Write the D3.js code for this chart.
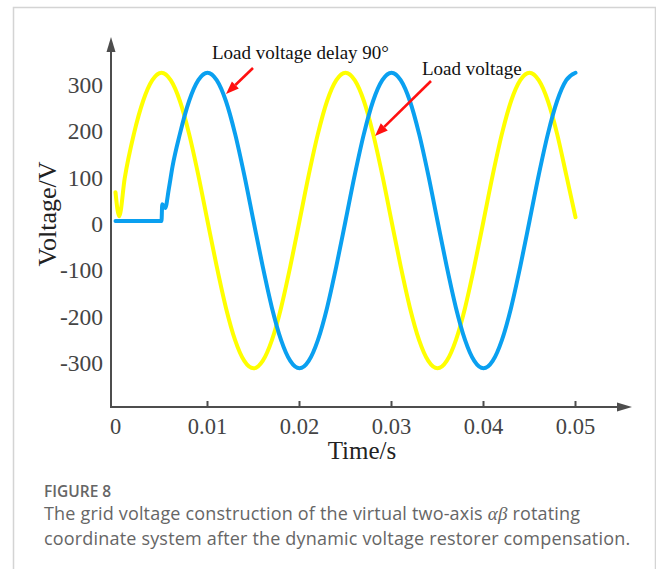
<!DOCTYPE html>
<html>
<head>
<meta charset="utf-8">
<script src="https://cdn.jsdelivr.net/npm/d3@7/dist/d3.min.js"></script>
<style>
  html, body { margin: 0; padding: 0; background: #fff; }
  svg { display: block; }
</style>
</head>
<body>
<svg id="chart" width="656" height="569"></svg>
<script>
// Time axis (s) and tick labels
const xTicks = [0, 0.01, 0.02, 0.03, 0.04, 0.05];
const xTickLabels = ["0", "0.01", "0.02", "0.03", "0.04", "0.05"];
const yTicks = [300, 200, 100, 0, -100, -200, -300];
const yTickLabels = ["300", "200", "100", "0", "-100", "-200", "-300"];

// Load voltage (yellow): sample times (s) and voltage (V)
const loadTime = [0, 0.0004, 0.001, 0.002, 0.003, 0.004, 0.005, 0.006, 0.007, 0.008, 0.009,
  0.010, 0.011, 0.012, 0.013, 0.014, 0.015, 0.016, 0.017, 0.018, 0.019,
  0.020, 0.021, 0.022, 0.023, 0.024, 0.025, 0.026, 0.027, 0.028, 0.029,
  0.030, 0.031, 0.032, 0.033, 0.034, 0.035, 0.036, 0.037, 0.038, 0.039,
  0.040, 0.041, 0.042, 0.043, 0.044, 0.045, 0.046, 0.047, 0.048, 0.049, 0.050];
const loadVoltage = [62, 10, 92, 188, 259, 304, 320, 304, 259, 188, 99,
  0, -98, -187, -257, -302, -318, -302, -257, -187, -98,
  0, 99, 188, 259, 304, 320, 304, 259, 188, 99,
  0, -98, -187, -257, -302, -318, -302, -257, -187, -98,
  0, 99, 188, 259, 304, 320, 304, 259, 188, 99, 8];

// Load voltage delayed by 90° (blue)
const delayTime = [0, 0.005, 0.00508, 0.0054, 0.0058, 0.0062, 0.007, 0.008, 0.009,
  0.010, 0.011, 0.012, 0.013, 0.014, 0.015, 0.016, 0.017, 0.018, 0.019,
  0.020, 0.021, 0.022, 0.023, 0.024, 0.025, 0.026, 0.027, 0.028, 0.029,
  0.030, 0.031, 0.032, 0.033, 0.034, 0.035, 0.036, 0.037, 0.038, 0.039,
  0.040, 0.041, 0.042, 0.043, 0.044, 0.045, 0.046, 0.047, 0.048, 0.049, 0.050];
const delayVoltage = [0, 0, 36, 28, 70, 118, 188, 259, 304,
  320, 304, 259, 188, 99, 0, -98, -187, -257, -302,
  -318, -302, -257, -187, -98, 0, 99, 188, 259, 304,
  320, 304, 259, 188, 99, 0, -98, -187, -257, -302,
  -318, -302, -257, -187, -98, 0, 99, 188, 259, 304, 320];

const svg = d3.select("#chart");

// Panel frame
svg.append("path")
  .attr("d", "M13.5,600 V7.5 H655.5 V600")
  .attr("fill", "none")
  .attr("stroke", "#d4d4d4")
  .attr("stroke-width", 1.5);

const x = d3.scaleLinear().domain([0, 0.05]).range([115.5, 575.5]);
const y = d3.scaleLinear().domain([-300, 300]).range([360, 82]);

const axisColor = "#4d4d4d";
const axisX = 111, axisY = 407;
const serif = "'Liberation Serif', 'Times New Roman', serif";

// Axes with arrow heads
svg.append("line").attr("x1", axisX).attr("y1", axisY).attr("x2", 626).attr("y2", axisY)
  .attr("stroke", axisColor).attr("stroke-width", 2);
svg.append("path").attr("d", `M632,${axisY} L617,${axisY - 4.5} L617,${axisY + 4.5} Z`)
  .attr("fill", axisColor);
svg.append("line").attr("x1", axisX).attr("y1", axisY + 1).attr("x2", axisX).attr("y2", 44)
  .attr("stroke", axisColor).attr("stroke-width", 2);
svg.append("path").attr("d", `M${axisX},37 L${axisX - 4.5},52 L${axisX + 4.5},52 Z`)
  .attr("fill", axisColor);

// X ticks
const xt = svg.append("g");
xt.selectAll("line").data(xTicks.slice(1)).join("line")
  .attr("x1", d => x(d)).attr("x2", d => x(d))
  .attr("y1", axisY).attr("y2", axisY - 6)
  .attr("stroke", axisColor).attr("stroke-width", 2);
xt.selectAll("text").data(xTicks).join("text")
  .attr("x", d => x(d)).attr("y", 433.5)
  .attr("text-anchor", "middle")
  .attr("font-family", serif).attr("font-size", 22.5).attr("fill", "#444")
  .text((d, i) => xTickLabels[i]);

// Y tick labels
svg.append("g").selectAll("text").data(yTicks).join("text")
  .attr("x", 103).attr("y", d => y(d) + 11)
  .attr("text-anchor", "end")
  .attr("font-family", serif).attr("font-size", 23.5).attr("fill", "#444")
  .text((d, i) => yTickLabels[i]);

// Axis titles
svg.append("text").attr("x", 362).attr("y", 459)
  .attr("text-anchor", "middle")
  .attr("font-family", serif).attr("font-size", 25).attr("fill", "#222")
  .text("Time/s");
svg.append("text")
  .attr("transform", "translate(56,214) rotate(-90)")
  .attr("text-anchor", "middle")
  .attr("font-family", serif).attr("font-size", 26).attr("fill", "#222")
  .text("Voltage/V");

// Waveforms
const line = d3.line().curve(d3.curveMonotoneX);
svg.append("path")
  .attr("d", line(loadTime.map((t, i) => [x(t), y(loadVoltage[i])])))
  .attr("fill", "none").attr("stroke", "#ffff00").attr("stroke-width", 4)
  .attr("stroke-linejoin", "round").attr("stroke-linecap", "round");
svg.append("path")
  .attr("d", line(delayTime.map((t, i) => [x(t), y(delayVoltage[i])])))
  .attr("fill", "none").attr("stroke", "#0aa0f0").attr("stroke-width", 4)
  .attr("stroke-linejoin", "round").attr("stroke-linecap", "round");

// Annotations: red arrows pointing at each waveform
const notes = [
  { text: "Load voltage delay 90°", tx: 212, ty: 59, from: [253, 68], to: [226, 94] },
  { text: "Load voltage", tx: 422, ty: 75, from: [431, 81], to: [375, 136] }
];
notes.forEach(n => {
  svg.append("text").attr("x", n.tx).attr("y", n.ty)
    .attr("font-family", serif).attr("font-size", 19).attr("fill", "#111")
    .text(n.text);
  const [x1, y1] = n.from, [x2, y2] = n.to;
  const ang = Math.atan2(y2 - y1, x2 - x1);
  const len = 13, half = 5;
  const bx = x2 - len * Math.cos(ang), by = y2 - len * Math.sin(ang);
  svg.append("line").attr("x1", x1).attr("y1", y1).attr("x2", bx).attr("y2", by)
    .attr("stroke", "#ff1010").attr("stroke-width", 2.6);
  const px = -Math.sin(ang) * half, py = Math.cos(ang) * half;
  svg.append("path")
    .attr("d", `M${x2},${y2} L${bx + px},${by + py} L${bx - px},${by - py} Z`)
    .attr("fill", "#ff1010");
});

// Caption
const sans = "'Open Sans', 'Noto Sans', sans-serif";
svg.append("text").attr("x", 44).attr("y", 497)
  .attr("font-family", sans).attr("font-size", 15.5).attr("font-weight", 600).attr("fill", "#666")
  .text("FIGURE 8");
const cap1 = svg.append("text").attr("x", 44).attr("y", 520)
  .attr("font-family", sans).attr("font-size", 18).attr("letter-spacing", 0.18).attr("fill", "#666");
cap1.append("tspan").text("The grid voltage construction of the virtual two-axis ");
cap1.append("tspan").attr("font-family", serif).attr("font-style", "italic").attr("font-size", 19).text("αβ");
cap1.append("tspan").text(" rotating");
svg.append("text").attr("x", 44).attr("y", 545)
  .attr("font-family", sans).attr("font-size", 18).attr("letter-spacing", 0.18).attr("fill", "#666")
  .text("coordinate system after the dynamic voltage restorer compensation.");
</script>
</body>
</html>
